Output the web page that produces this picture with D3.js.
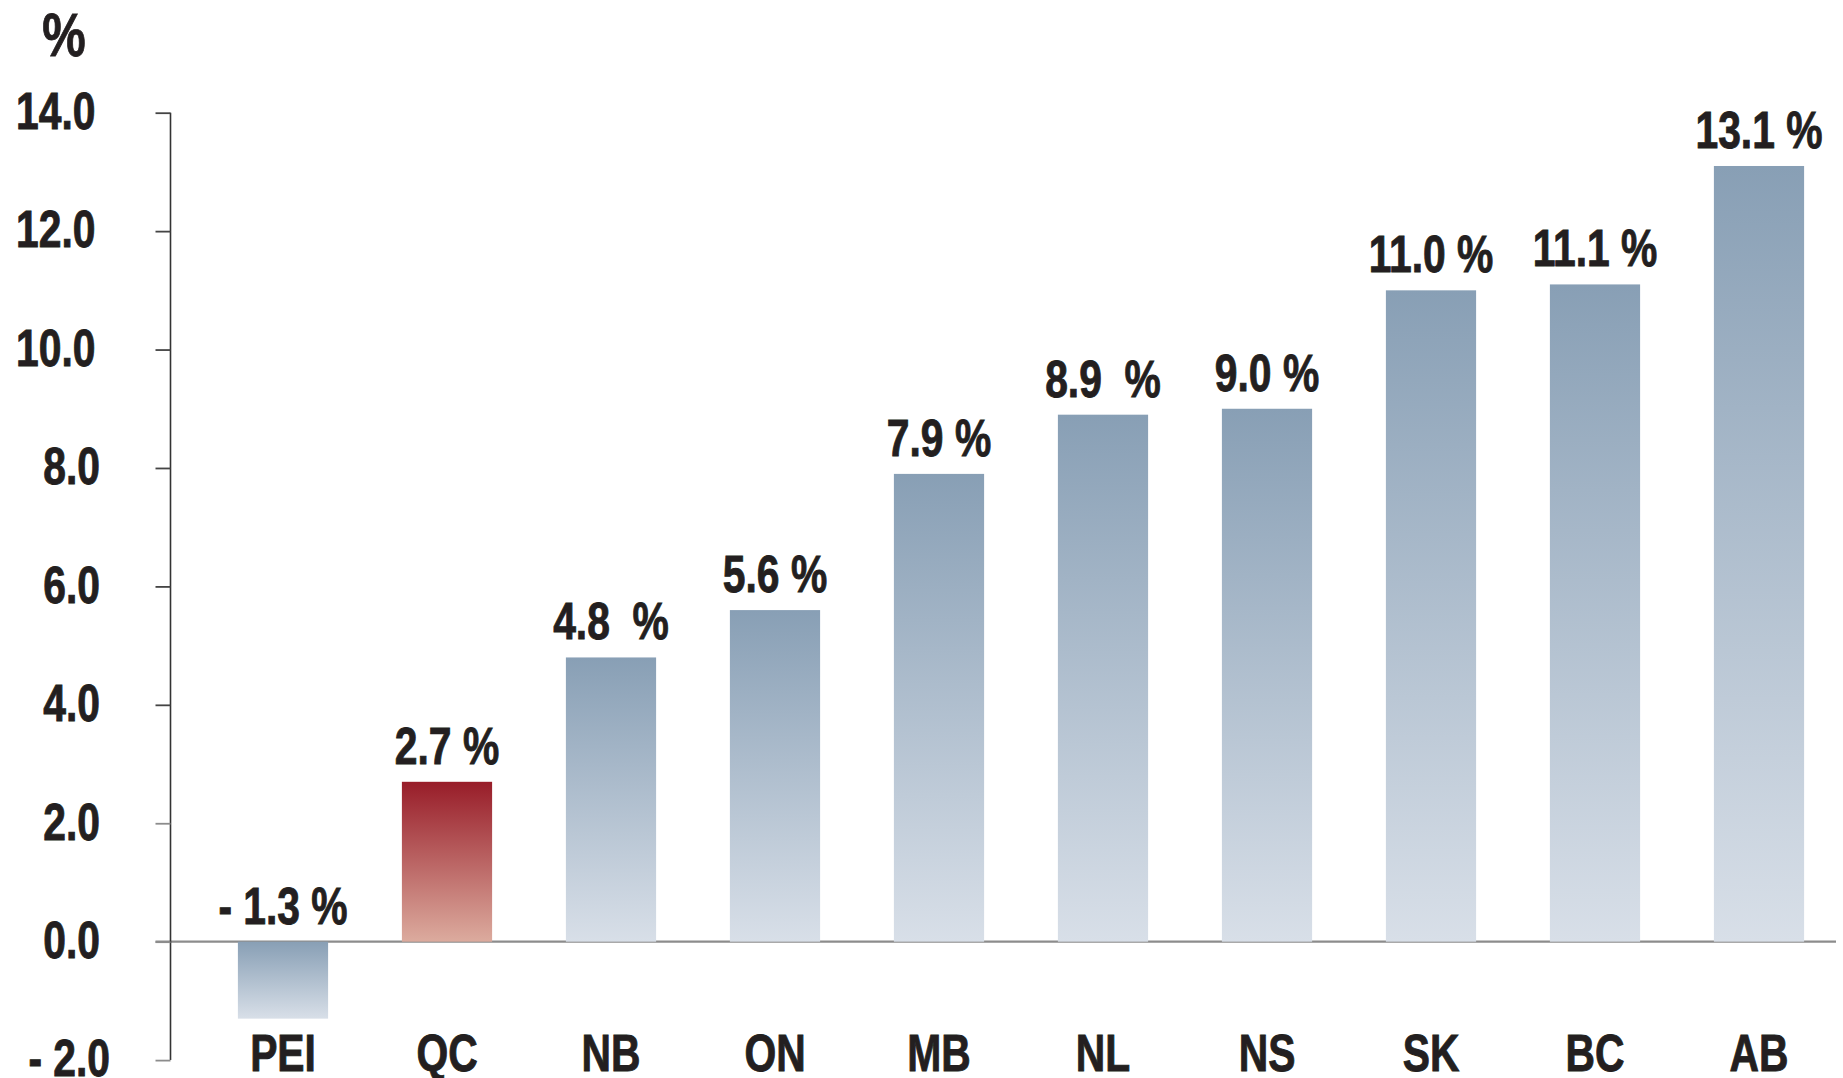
<!DOCTYPE html>
<html>
<head>
<meta charset="utf-8">
<script src="https://cdn.jsdelivr.net/npm/d3@7"></script>
<style>
  html, body { margin: 0; padding: 0; background: #fff; }
  svg { display: block; }
  text { font-family: "Liberation Sans", Arial, sans-serif; font-weight: bold; fill: #231f20; stroke: #231f20; stroke-width: 0.9px; white-space: pre; }
</style>
</head>
<body>
<svg id="chart" width="1843" height="1078"></svg>
<script>
const categories = ["PEI", "QC", "NB", "ON", "MB", "NL", "NS", "SK", "BC", "AB"];
const values = [-1.3, 2.7, 4.8, 5.6, 7.9, 8.9, 9.0, 11.0, 11.1, 13.1];
const valueLabels = ["- 1.3 %", "2.7 %", "4.8  %", "5.6 %", "7.9 %", "8.9  %", "9.0 %", "11.0 %", "11.1 %", "13.1 %"];
const highlighted = ["QC"];
const tickValues = [-2, 0, 2, 4, 6, 8, 10, 12, 14];
const tickLabels = ["- 2.0", "0.0", "2.0", "4.0", "6.0", "8.0", "10.0", "12.0", "14.0"];
const unitLabel = "%";

const NARROW = 0.8;
const FS = 51;

const svg = d3.select("#chart");

const y = d3.scaleLinear().domain([-2, 14]).range([1060.1, 112.7]);
const x = d3.scaleBand().domain(categories).range([201, 1841]).paddingInner(0.45).paddingOuter(0.225);

const defs = svg.append("defs");
function grad(id, top, bottom) {
  const g = defs.append("linearGradient").attr("id", id)
    .attr("x1", 0).attr("y1", 0).attr("x2", 0).attr("y2", 1);
  g.append("stop").attr("offset", "0%").attr("stop-color", top);
  g.append("stop").attr("offset", "100%").attr("stop-color", bottom);
}
grad("gBlue", "#889fb5", "#d8dfe8");
grad("gRed", "#981d29", "#dcab9e");

// zero line
svg.append("line")
  .attr("x1", 155.5).attr("x2", 1836)
  .attr("y1", y(0)).attr("y2", y(0))
  .attr("stroke", "#8c8c8c").attr("stroke-width", 2.2);

// y axis
const axisX = 170.5;
const yAxis = d3.axisLeft(y).tickValues(tickValues).tickSize(15).tickFormat((d, i) => tickLabels[i]);
const ag = svg.append("g").attr("transform", `translate(${axisX},0)`).call(yAxis);
ag.select(".domain").attr("stroke", "#333").attr("stroke-width", 1.6).attr("d", `M0,${y(14)}V${y(-2)}`);
ag.selectAll(".tick line")
  .attr("stroke", d => d <= 2 ? "#8c8c8c" : "#444")
  .attr("stroke-width", 1.8);
function labelEnd(t) {
  if (t.startsWith("-")) return 110;
  return t.length >= 4 ? 95.5 : 100;
}
ag.selectAll(".tick text")
  .attr("x", 0).attr("dy", 0)
  .attr("transform", (d, i) => `translate(${labelEnd(tickLabels[i]) - axisX},${-2.5 + FS * 0.358}) scale(${NARROW},1)`)
  .attr("text-anchor", "end")
  .style("font-size", FS + "px").attr("fill", "#231f20")
  .style("font-family", '"Liberation Sans", Arial, sans-serif')
  .style("font-weight", "bold");

// unit label
svg.append("text")
  .attr("transform", `translate(64,56) scale(${NARROW},1)`)
  .attr("text-anchor", "middle")
  .style("font-size", "61px").text(unitLabel);

// bars
const data = categories.map((c, i) => ({ c, v: values[i], label: valueLabels[i] }));
svg.append("g").selectAll("rect").data(data).join("rect")
  .attr("x", d => x(d.c))
  .attr("width", x.bandwidth())
  .attr("y", d => y(Math.max(0, d.v)))
  .attr("height", d => Math.abs(y(d.v) - y(0)))
  .attr("fill", d => highlighted.includes(d.c) ? "url(#gRed)" : "url(#gBlue)");

// value labels
svg.append("g").selectAll("text").data(data).join("text")
  .attr("transform", d => `translate(${x(d.c) + x.bandwidth() / 2},${y(Math.max(0, d.v)) - 18}) scale(${NARROW},1)`)
  .attr("text-anchor", "middle")
  .style("font-size", FS + "px")
  .text(d => d.label);

// category labels
svg.append("g").selectAll("text").data(data).join("text")
  .attr("transform", d => `translate(${x(d.c) + x.bandwidth() / 2},1071) scale(${NARROW},1)`)
  .attr("text-anchor", "middle")
  .style("font-size", FS + "px")
  .text(d => d.c);
</script>
</body>
</html>
